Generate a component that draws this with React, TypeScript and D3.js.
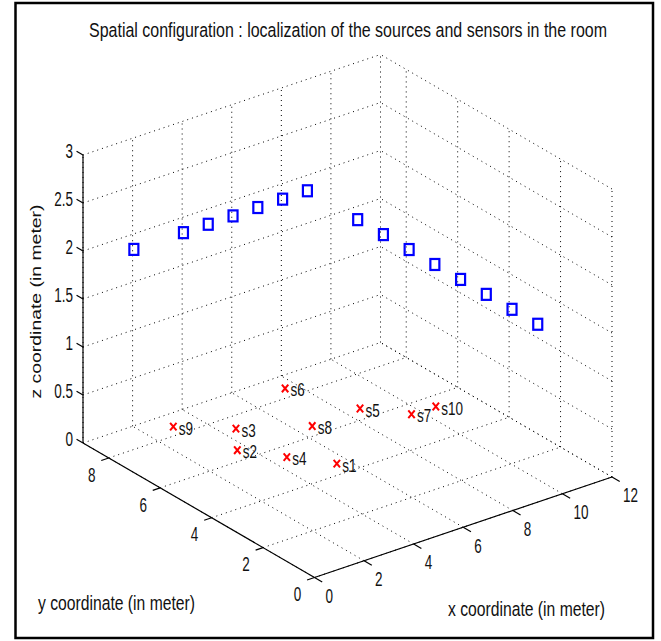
import React from "react";
import * as d3 from "d3";

// Axis ticks
const xTicks = [0, 2, 4, 6, 8, 10, 12];
const yTicks = [0, 2, 4, 6, 8];
const zTicks = [0, 0.5, 1, 1.5, 2, 2.5, 3];
const zTickLabels = ["0", "0.5", "1", "1.5", "2", "2.5", "3"];

// Sources (blue squares)
const sourceX = [2, 4, 5, 6, 7, 8, 9, 11.08, 11.08, 11.08, 11.08, 11.08, 11.08, 11.08, 11.08];
const sourceY = [8.95, 8.95, 8.95, 8.95, 8.95, 8.95, 8.95, 9, 8, 7, 6, 5, 4, 3, 2];
const sourceZ = [1.85, 1.85, 1.85, 1.85, 1.85, 1.85, 1.85, 1.36, 1.36, 1.36, 1.36, 1.36, 1.36, 1.36, 1.36];

// Sensors (red crosses)
const sensorNames = ["s1", "s2", "s3", "s4", "s5", "s6", "s7", "s8", "s9", "s10"];
const sensorX = [5.57, 3.62, 4.53, 4.58, 8.58, 7.55, 9.64, 6.59, 3.02, 10.6];
const sensorY = [4.5, 6.49, 7.42, 5.49, 6.5, 8.42, 5.52, 6.44, 8.4, 5.5];
const sensorZ = [0, 0, 0, 0, 0, 0, 0, 0, 0, 0];

const W = 661;
const H = 641;
const FONT = "'Liberation Sans', Arial, Helvetica, sans-serif";

// Oblique 3-D projection of the axes box
const origin = { x: 314.5, y: 577.5 };
const xNorm = d3.scaleLinear().domain([0, 12]).range([0, 1]);
const yNorm = d3.scaleLinear().domain([0, 9]).range([0, 1]);
const zScale = d3.scaleLinear().domain([0, 3]).range([0, -288]);
const X_EDGE = [297.5, -100.5];
const Y_EDGE = [-231.5, -134.5];

function proj(x: number, y: number, z: number): [number, number] {
  const u = xNorm(x);
  const v = yNorm(y);
  return [
    origin.x + u * X_EDGE[0] + v * Y_EDGE[0],
    origin.y + u * X_EDGE[1] + v * Y_EDGE[1] + zScale(z),
  ];
}

type Seg = [[number, number, number], [number, number, number]];

function gridSegments(): Seg[] {
  const segs: Seg[] = [];
  // floor
  xTicks.forEach((x) => segs.push([[x, 0, 0], [x, 9, 0]]));
  yTicks.forEach((y) => segs.push([[0, y, 0], [12, y, 0]]));
  // back wall (y = 9)
  xTicks.forEach((x) => segs.push([[x, 9, 0], [x, 9, 3]]));
  zTicks.forEach((z) => segs.push([[0, 9, z], [12, 9, z]]));
  // side wall (x = 12)
  yTicks.forEach((y) => segs.push([[12, y, 0], [12, y, 3]]));
  zTicks.forEach((z) => segs.push([[12, 0, z], [12, 9, z]]));
  return segs;
}

const line = d3.line<[number, number]>();

function Label({
  x,
  y,
  text,
  anchor = "middle",
  sy = 1.5,
  size = 13.5,
  dy = "0.358em",
  length,
}: {
  x: number;
  y: number;
  text: string;
  anchor?: string;
  sy?: number;
  size?: number;
  dy?: string;
  length?: number;
}) {
  return (
    <text
      transform={`translate(${x},${y}) scale(1,${sy})`}
      textAnchor={anchor}
      dy={dy}
      fontFamily={FONT}
      fontSize={size}
      fill="#111"
      textLength={length}
      lengthAdjust={length ? "spacingAndGlyphs" : undefined}
    >
      {text}
    </text>
  );
}

export default function App() {
  const segs = gridSegments();
  const zTop = proj(0, 9, 3);
  const zBot = proj(0, 9, 0);

  return (
    <svg
      width={W}
      height={H}
      viewBox={`0 0 ${W} ${H}`}
      style={{ position: "absolute", left: 0, top: 0, background: "#fff" }}
    >
      <rect x={0} y={0} width={W} height={H} fill="#fff" />

      {/* frame */}
      <rect x={15.5} y={3} width={637.5} height={635} fill="none" stroke="#000" strokeWidth={2.5} />

      {/* title */}
      <Label x={348} y={36.5} text="Spatial configuration : localization of the sources and sensors in the room" dy="0" length={518} />

      {/* dotted grid */}
      <g stroke="#000" strokeWidth={1} strokeDasharray="1 4" fill="none">
        {segs.map((s, i) => (
          <path key={i} d={line([proj(...s[0]), proj(...s[1])]) || ""} />
        ))}
      </g>

      {/* axes */}
      <g stroke="#000" strokeWidth={1.2} fill="none">
        <path d={line([proj(0, 0, 0), proj(12, 0, 0)]) || ""} />
        <path d={line([proj(0, 0, 0), proj(0, 9, 0)]) || ""} />
        <path d={line([zBot, zTop]) || ""} />
        {xTicks.map((t) => (
          <path key={"xt" + t} d={line([proj(t, 0, 0), proj(t, -0.3, 0)]) || ""} />
        ))}
        {yTicks.map((t) => (
          <path key={"yt" + t} d={line([proj(0, t, 0), proj(-0.3, t, 0)]) || ""} />
        ))}
        {zTicks.map((t) => (
          <path key={"zt" + t} d={line([proj(0, 9, t), proj(0, 9.25, t)]) || ""} />
        ))}
      </g>

      {/* tick labels */}
      {xTicks.map((t) => {
        const [px, py] = proj(t, 0, 0);
        return <Label key={"xl" + t} x={px + 11} y={py + 18} text={String(t)} anchor="start" />;
      })}
      {yTicks.map((t) => {
        const [px, py] = proj(0, t, 0);
        return <Label key={"yl" + t} x={px - 17} y={py + 16.5} text={String(t)} />;
      })}
      {zTicks.map((t, i) => {
        const [, py] = proj(0, 9, t);
        return <Label key={"zl" + t} x={73} y={py - 4} text={zTickLabels[i]} anchor="end" />;
      })}

      {/* axis titles */}
      <Label x={38} y={609.5} text="y coordinate (in meter)" anchor="start" dy="0" length={157} />
      <Label x={448} y={616} text="x coordinate (in meter)" anchor="start" dy="0" length={157} />
      <text
        transform="translate(41,301.5) rotate(-90)"
        textAnchor="middle"
        fontFamily={FONT}
        fontSize={14}
        fill="#111"
        textLength={194}
        lengthAdjust="spacingAndGlyphs"
      >
        z coordinate (in meter)
      </text>

      {/* sources */}
      <g fill="none" stroke="#0000ff" strokeWidth={2.2}>
        {sourceX.map((x, i) => {
          const [px, py] = proj(x, sourceY[i], sourceZ[i]);
          return <rect key={"src" + i} x={px - 4.5} y={py - 5.5} width={9} height={11} />;
        })}
      </g>

      {/* sensors */}
      {sensorX.map((x, i) => {
        const [px, py] = proj(x, sensorY[i], sensorZ[i]);
        return (
          <g key={"sen" + i}>
            <path
              d={`M${px - 3.2},${py - 3.8}L${px + 3.2},${py + 3.8}M${px - 3.2},${py + 3.8}L${px + 3.2},${py - 3.8}`}
              stroke="#ff0000"
              strokeWidth={2}
              fill="none"
            />
            <Label x={px + 5.5} y={py + 1.5} text={sensorNames[i]} anchor="start" sy={1.35} size={13.5} />
          </g>
        );
      })}
    </svg>
  );
}
